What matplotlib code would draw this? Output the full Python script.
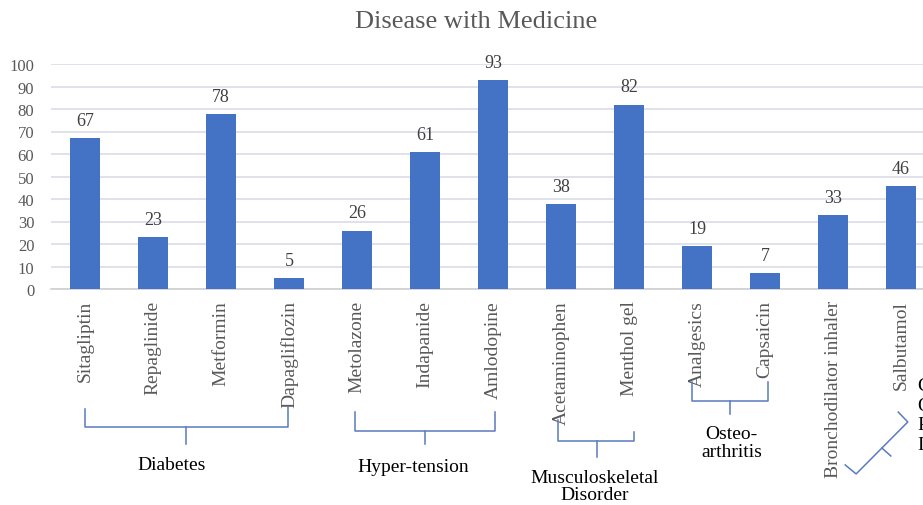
import matplotlib
matplotlib.use("Agg")
import matplotlib.pyplot as plt

medicines = ["Sitagliptin", "Repaglinide", "Metformin", "Dapagliflozin", "Metolazone",
             "Indapanide", "Amlodopine", "Acetaminophen", "Menthol gel", "Analgesics",
             "Capsaicin", "Bronchodilator inhaler", "Salbutamol"]
values = [67, 23, 78, 5, 26, 61, 93, 38, 82, 19, 7, 33, 46]
yticks = list(range(0, 101, 10))

plt.rcParams['font.family'] = ['Liberation Serif', 'DejaVu Serif']

W, H = 923, 506
fig = plt.figure(figsize=(W / 100, H / 100), dpi=100)
ax = fig.add_axes([51 / W, 216 / H, 884 / W, 225 / H])

x = list(range(len(medicines)))
bars = ax.bar(x, values, width=0.44, color="#4472C4", zorder=3)
for xi, v in zip(x, values):
    ax.text(xi, v + 4, str(v), ha="center", va="bottom", fontsize=13, color="#404040")

ax.set_xlim(-0.5, len(medicines) - 0.5)
ax.set_ylim(0, 100)
ax.set_yticks(yticks)
ax.set_yticklabels([str(t) for t in yticks], fontsize=12, color="#595959")
ax.set_xticks(x)
ax.set_xticklabels(medicines, rotation=90, fontsize=14, color="#595959", va="top", ha="center")
ax.tick_params(axis="x", length=0, pad=8)
ax.tick_params(axis="y", length=0, pad=12)
ax.grid(axis="y", color="#d9dde8", linewidth=1.2, zorder=0)
for s in ["top", "right", "left"]:
    ax.spines[s].set_visible(False)
ax.spines["bottom"].set_color("#d0d0d0")
ax.spines["bottom"].set_linewidth(1.2)

fig.text(476 / W, 1 - 22 / H, "Disease with Medicine", ha="center", va="center",
         fontsize=19, color="#595959")

bc = "#5a7bbd"
lw = 1.1


def brace(x0, x1, ytop_l, ytop_r, yh, xc, ytick):
    ax.plot([x0, x0, x1, x1], [ytop_l, yh, yh, ytop_r], color=bc, lw=lw, clip_on=False)
    ax.plot([xc, xc], [yh, ytick], color=bc, lw=lw, clip_on=False)


# Diabetes
brace(0.0, 2.99, -53.3, -52.5, -61.3, 1.485, -68.9)
ax.text(1.28, -77.8, "Diabetes", ha="center", va="center", fontsize=14, color="black", clip_on=False)
# Hyper-tension
brace(3.97, 6.03, -54.7, -54.7, -63.1, 5.0, -68.9)
ax.text(4.82, -78.7, "Hyper-tension", ha="center", va="center", fontsize=14, color="black", clip_on=False)
# Musculoskeletal Disorder
brace(6.96, 8.07, -58.0, -63.6, -67.6, 7.53, -74.7)
ax.text(7.5, -87.5, "Musculoskeletal\nDisorder", ha="center", va="center", fontsize=14,
        color="black", linespacing=1.05, clip_on=False)
# Osteo-arthritis
brace(8.93, 10.04, -41.3, -41.3, -49.8, 9.49, -55.6)
ax.text(9.51, -68.2, "Osteo-\narthritis", ha="center", va="center", fontsize=14,
        color="black", linespacing=1.05, clip_on=False)
# COPD (slanted brace)
ax.plot([11.18, 11.34, 12.10, 11.96], [-78.2, -82.2, -59.1, -54.7], color=bc, lw=lw, clip_on=False)
ax.plot([11.72, 11.85], [-70.7, -74.2], color=bc, lw=lw, clip_on=False)
ax.text(12.24, -39.1, "Chronic\nObstructive\nPulmonary\nDisease", ha="left", va="top",
        fontsize=14, color="black", linespacing=1.2, clip_on=False)

fig.savefig("out.png", dpi=100)
